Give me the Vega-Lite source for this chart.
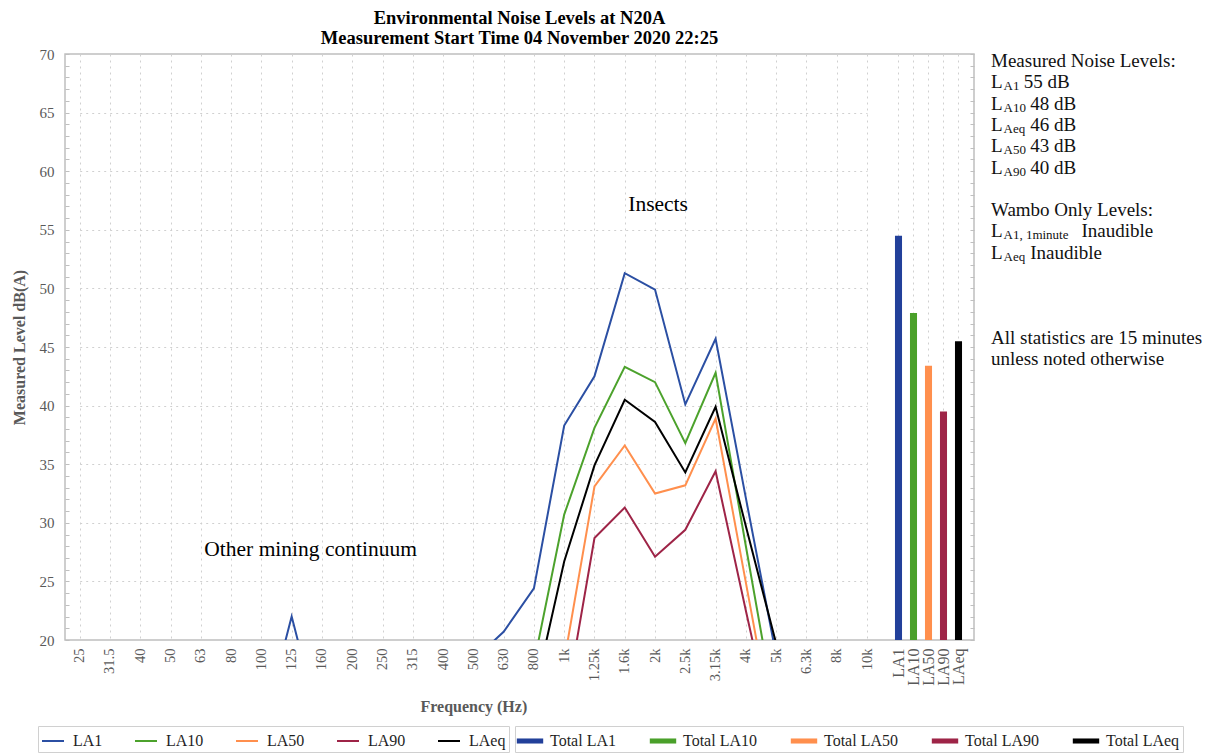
{
  "$schema": "https://vega.github.io/schema/vega-lite/v6.json",
  "padding": {"left": 11, "top": 8, "right": 0, "bottom": 0},
  "config": {
    "font": "Liberation Serif",
    "view": {"stroke": "#bfbfbf", "strokeWidth": 1.5},
    "legend": {"labelFontSize": 16, "labelColor": "#1f1f1f", "symbolSize": 484, "labelOffset": 8, "strokeColor": "#d0d0d0", "padding": 3, "fillColor": "#ffffff", "direction": "horizontal", "orient": "none", "title": null}
  },
  "title": {
    "text": ["Environmental Noise Levels at N20A", "Measurement Start Time 04 November 2020 22:25"],
    "fontSize": 18.5, "fontWeight": "bold", "color": "#000000", "lineHeight": 20, "offset": 0, "anchor": "middle", "frame": "group"
  },
  "width": 909,
  "height": 586,
  "data": {"values": [
    {"line": 1, "sub": "", "text": "Measured Noise Levels:"},
    {"line": 2, "sub": "A1", "text": "55 dB"},
    {"line": 3, "sub": "A10", "text": "48 dB"},
    {"line": 4, "sub": "Aeq", "text": "46 dB"},
    {"line": 5, "sub": "A50", "text": "43 dB"},
    {"line": 6, "sub": "A90", "text": "40 dB"},
    {"line": 8, "sub": "", "text": "Wambo Only Levels:"},
    {"line": 9, "sub": "A1, 1minute", "text": "Inaudible"},
    {"line": 10, "sub": "Aeq", "text": "Inaudible"},
    {"line": 14, "sub": "", "text": "All statistics are 15 minutes"},
    {"line": 15, "sub": "", "text": "unless noted otherwise"}
  ]},
  "layer": [
    {
      "data": {"values": [
        {"freq":"25","series":"LA1","value":16},{"freq":"31.5","series":"LA1","value":15},{"freq":"40","series":"LA1","value":14},{"freq":"50","series":"LA1","value":13},{"freq":"63","series":"LA1","value":13},{"freq":"80","series":"LA1","value":12.5},{"freq":"100","series":"LA1","value":12},{"freq":"125","series":"LA1","value":22.0},{"freq":"160","series":"LA1","value":12},{"freq":"200","series":"LA1","value":12.5},{"freq":"250","series":"LA1","value":13},{"freq":"315","series":"LA1","value":13.5},{"freq":"400","series":"LA1","value":14},{"freq":"500","series":"LA1","value":18.3},{"freq":"630","series":"LA1","value":20.7},{"freq":"800","series":"LA1","value":24.4},{"freq":"1k","series":"LA1","value":38.3},{"freq":"1.25k","series":"LA1","value":42.5},{"freq":"1.6k","series":"LA1","value":51.3},{"freq":"2k","series":"LA1","value":49.9},{"freq":"2.5k","series":"LA1","value":40.1},{"freq":"3.15k","series":"LA1","value":45.7},{"freq":"4k","series":"LA1","value":32.1},{"freq":"5k","series":"LA1","value":18.7},{"freq":"6.3k","series":"LA1","value":15},{"freq":"8k","series":"LA1","value":13},{"freq":"10k","series":"LA1","value":12},
        {"freq":"25","series":"LA10","value":12},{"freq":"31.5","series":"LA10","value":11},{"freq":"40","series":"LA10","value":11},{"freq":"50","series":"LA10","value":10},{"freq":"63","series":"LA10","value":10},{"freq":"80","series":"LA10","value":10},{"freq":"100","series":"LA10","value":10},{"freq":"125","series":"LA10","value":11},{"freq":"160","series":"LA10","value":10},{"freq":"200","series":"LA10","value":10},{"freq":"250","series":"LA10","value":11},{"freq":"315","series":"LA10","value":11},{"freq":"400","series":"LA10","value":12},{"freq":"500","series":"LA10","value":13},{"freq":"630","series":"LA10","value":15},{"freq":"800","series":"LA10","value":18.0},{"freq":"1k","series":"LA10","value":30.7},{"freq":"1.25k","series":"LA10","value":38.1},{"freq":"1.6k","series":"LA10","value":43.3},{"freq":"2k","series":"LA10","value":42.0},{"freq":"2.5k","series":"LA10","value":36.8},{"freq":"3.15k","series":"LA10","value":42.8},{"freq":"4k","series":"LA10","value":28.0},{"freq":"5k","series":"LA10","value":13.4},{"freq":"6.3k","series":"LA10","value":11},{"freq":"8k","series":"LA10","value":10},{"freq":"10k","series":"LA10","value":9},
        {"freq":"25","series":"LA50","value":8},{"freq":"31.5","series":"LA50","value":8},{"freq":"40","series":"LA50","value":8},{"freq":"50","series":"LA50","value":8},{"freq":"63","series":"LA50","value":8},{"freq":"80","series":"LA50","value":8},{"freq":"100","series":"LA50","value":8},{"freq":"125","series":"LA50","value":8},{"freq":"160","series":"LA50","value":8},{"freq":"200","series":"LA50","value":8},{"freq":"250","series":"LA50","value":8},{"freq":"315","series":"LA50","value":9},{"freq":"400","series":"LA50","value":9},{"freq":"500","series":"LA50","value":10},{"freq":"630","series":"LA50","value":11},{"freq":"800","series":"LA50","value":13},{"freq":"1k","series":"LA50","value":18.2},{"freq":"1.25k","series":"LA50","value":33.1},{"freq":"1.6k","series":"LA50","value":36.6},{"freq":"2k","series":"LA50","value":32.5},{"freq":"2.5k","series":"LA50","value":33.2},{"freq":"3.15k","series":"LA50","value":38.9},{"freq":"4k","series":"LA50","value":24.9},{"freq":"5k","series":"LA50","value":10.9},{"freq":"6.3k","series":"LA50","value":9},{"freq":"8k","series":"LA50","value":8},{"freq":"10k","series":"LA50","value":8},
        {"freq":"25","series":"LA90","value":6},{"freq":"31.5","series":"LA90","value":6},{"freq":"40","series":"LA90","value":6},{"freq":"50","series":"LA90","value":6},{"freq":"63","series":"LA90","value":6},{"freq":"80","series":"LA90","value":6},{"freq":"100","series":"LA90","value":6},{"freq":"125","series":"LA90","value":6},{"freq":"160","series":"LA90","value":6},{"freq":"200","series":"LA90","value":6},{"freq":"250","series":"LA90","value":6},{"freq":"315","series":"LA90","value":7},{"freq":"400","series":"LA90","value":7},{"freq":"500","series":"LA90","value":8},{"freq":"630","series":"LA90","value":8},{"freq":"800","series":"LA90","value":9},{"freq":"1k","series":"LA90","value":13.7},{"freq":"1.25k","series":"LA90","value":28.7},{"freq":"1.6k","series":"LA90","value":31.3},{"freq":"2k","series":"LA90","value":27.1},{"freq":"2.5k","series":"LA90","value":29.4},{"freq":"3.15k","series":"LA90","value":34.4},{"freq":"4k","series":"LA90","value":22.5},{"freq":"5k","series":"LA90","value":10.9},{"freq":"6.3k","series":"LA90","value":8},{"freq":"8k","series":"LA90","value":7},{"freq":"10k","series":"LA90","value":6},
        {"freq":"25","series":"LAeq","value":10},{"freq":"31.5","series":"LAeq","value":10},{"freq":"40","series":"LAeq","value":10},{"freq":"50","series":"LAeq","value":10},{"freq":"63","series":"LAeq","value":10},{"freq":"80","series":"LAeq","value":10},{"freq":"100","series":"LAeq","value":10},{"freq":"125","series":"LAeq","value":12},{"freq":"160","series":"LAeq","value":10},{"freq":"200","series":"LAeq","value":10},{"freq":"250","series":"LAeq","value":10},{"freq":"315","series":"LAeq","value":10},{"freq":"400","series":"LAeq","value":11},{"freq":"500","series":"LAeq","value":12},{"freq":"630","series":"LAeq","value":13},{"freq":"800","series":"LAeq","value":15.2},{"freq":"1k","series":"LAeq","value":26.7},{"freq":"1.25k","series":"LAeq","value":34.9},{"freq":"1.6k","series":"LAeq","value":40.5},{"freq":"2k","series":"LAeq","value":38.6},{"freq":"2.5k","series":"LAeq","value":34.3},{"freq":"3.15k","series":"LAeq","value":39.9},{"freq":"4k","series":"LAeq","value":29.7},{"freq":"5k","series":"LAeq","value":19.7},{"freq":"6.3k","series":"LAeq","value":15},{"freq":"8k","series":"LAeq","value":13},{"freq":"10k","series":"LAeq","value":11}
      ]},
      "mark": {"type": "line", "strokeWidth": 2, "clip": true},
      "encoding": {
        "x": {
          "field": "freq", "type": "ordinal",
          "sort": ["25","31.5","40","50","63","80","100","125","160","200","250","315","400","500","630","800","1k","1.25k","1.6k","2k","2.5k","3.15k","4k","5k","6.3k","8k","10k"],
          "scale": {"type": "point", "domain": ["25","31.5","40","50","63","80","100","125","160","200","250","315","400","500","630","800","1k","1.25k","1.6k","2k","2.5k","3.15k","4k","5k","6.3k","8k","10k"], "range": [14.7, 802], "padding": 0},
          "axis": {
            "title": "Frequency (Hz)", "orient": "bottom", "labelAngle": -90, "labelFontSize": 14.5, "labelColor": "#595959",
            "labelPadding": 8, "ticks": false, "domain": false, "grid": true, "gridDash": [2, 4], "gridColor": "#d0d0d0",
            "titleFontSize": 16, "titleFontWeight": "bold", "titleColor": "#595959", "titlePadding": 18, "labelOverlap": false
          }
        },
        "y": {
          "field": "value", "type": "quantitative",
          "scale": {"domain": [20, 70], "nice": false, "zero": false},
          "axis": {
            "title": "Measured Level dB(A)", "orient": "left",
            "values": [20,21,22,23,24,25,26,27,28,29,30,31,32,33,34,35,36,37,38,39,40,41,42,43,44,45,46,47,48,49,50,51,52,53,54,55,56,57,58,59,60,61,62,63,64,65,66,67,68,69,70],
            "labelExpr": "datum.value % 5 === 0 ? datum.label : ''",
            "labelFontSize": 15, "labelColor": "#595959", "labelPadding": 15, "labelOverlap": false, "labelFlush": false,
            "tickSize": -4, "tickColor": "#bfbfbf", "domain": false, "grid": true,
            "gridOpacity": {"condition": {"test": "datum.value % 5 === 0 && datum.value > 20 && datum.value < 70", "value": 1}, "value": 0},
            "gridDash": [2, 4], "gridColor": "#d0d0d0",
            "titleFontSize": 16, "titleFontWeight": "bold", "titleColor": "#595959", "titlePadding": 12
          }
        },
        "color": {
          "field": "series", "type": "nominal",
          "scale": {
            "domain": ["LA1","LA10","LA50","LA90","LAeq"],
            "range": ["#2B4FA3","#4CA22C","#FF8F4D","#9E2447","#000000"]
          },
          "legend": {"legendX": -27, "legendY": 672, "symbolType": "stroke", "symbolStrokeWidth": 2, "columnPadding": 28}
        }
      }
    },
    {
      "data": {"values": [
        {"freq": "1.6k", "value": 57.1, "note": "Insects"},
        {"freq": "63", "value": 27.7, "note": "Other mining continuum"}
      ]},
      "mark": {"type": "text", "fontSize": 21.5, "color": "#000000", "align": "left", "dx": 3.5},
      "encoding": {
        "x": {"field": "freq", "type": "ordinal",
              "scale": {"type": "point", "domain": ["25","31.5","40","50","63","80","100","125","160","200","250","315","400","500","630","800","1k","1.25k","1.6k","2k","2.5k","3.15k","4k","5k","6.3k","8k","10k"], "range": [14.7, 802], "padding": 0},
              "axis": null},
        "y": {"field": "value", "type": "quantitative", "scale": {"domain": [20, 70], "nice": false, "zero": false}, "axis": null},
        "text": {"field": "note"}
      }
    },
    {
      "data": {"values": [
        {"stat": "LA1", "series": "Total LA1", "value": 54.5},
        {"stat": "LA10", "series": "Total LA10", "value": 47.9},
        {"stat": "LA50", "series": "Total LA50", "value": 43.4},
        {"stat": "LA90", "series": "Total LA90", "value": 39.5},
        {"stat": "LAeq", "series": "Total LAeq", "value": 45.5}
      ]},
      "mark": {"type": "bar", "clip": true},
      "encoding": {
        "x": {
          "field": "stat", "type": "nominal",
          "scale": {"type": "band", "domain": ["LA1","LA10","LA50","LA90","LAeq"], "range": [826, 901], "paddingInner": 0.53, "paddingOuter": 0.265},
          "axis": {
            "title": null, "orient": "bottom", "labelAngle": -90, "labelFontSize": 16, "labelColor": "#595959",
            "labelPadding": 8, "ticks": false, "domain": false, "grid": true, "gridDash": [2, 4], "gridColor": "#d0d0d0",
            "labelOverlap": false, "labelBound": false
          }
        },
        "y": {
          "field": "value", "type": "quantitative",
          "scale": {"domain": [20, 70], "nice": false, "zero": false},
          "axis": {
            "orient": "right", "title": null, "labels": false,
            "values": [20,21,22,23,24,25,26,27,28,29,30,31,32,33,34,35,36,37,38,39,40,41,42,43,44,45,46,47,48,49,50,51,52,53,54,55,56,57,58,59,60,61,62,63,64,65,66,67,68,69,70],
            "tickSize": -4, "tickColor": "#bfbfbf", "domain": false, "grid": false
          }
        },
        "y2": {"datum": 20},
        "color": {
          "field": "series", "type": "nominal",
          "scale": {
            "domain": ["Total LA1","Total LA10","Total LA50","Total LA90","Total LAeq"],
            "range": ["#22409A","#4AA02A","#FF8F4D","#9E2447","#000000"]
          },
          "legend": {"legendX": 450, "legendY": 672, "symbolType": "M-1.2,-0.23H1.2V0.23H-1.2Z", "columnPadding": 33}
        }
      }
    },
    {
      "transform": [{"filter": "datum.sub !== ''"}],
      "mark": {"type": "text", "align": "left", "baseline": "middle", "fontSize": 19, "color": "#111111"},
      "encoding": {
        "x": {"datum": 0, "type": "quantitative", "scale": {"domain": [0, 200], "range": [926, 1126], "nice": false, "zero": false}, "axis": null},
        "y": {"field": "line", "type": "quantitative", "scale": {"domain": [1, 15], "range": [7, 305.2], "nice": false, "zero": false}, "axis": null},
        "text": {"value": "L"}
      }
    },
    {
      "transform": [{"filter": "datum.sub !== ''"}],
      "mark": {"type": "text", "align": "left", "baseline": "middle", "fontSize": 13, "dx": 12.5, "dy": 4, "color": "#111111"},
      "encoding": {
        "x": {"datum": 0, "type": "quantitative", "scale": {"domain": [0, 200], "range": [926, 1126], "nice": false, "zero": false}, "axis": null},
        "y": {"field": "line", "type": "quantitative", "scale": {"domain": [1, 15], "range": [7, 305.2], "nice": false, "zero": false}, "axis": null},
        "text": {"field": "sub"}
      }
    },
    {
      "transform": [{"calculate": "datum.sub === '' ? 0 : 20 + 6.4 * length(datum.sub)", "as": "indent"}],
      "mark": {"type": "text", "align": "left", "baseline": "middle", "fontSize": 19, "color": "#111111"},
      "encoding": {
        "x": {"field": "indent", "type": "quantitative", "scale": {"domain": [0, 200], "range": [926, 1126], "nice": false, "zero": false}, "axis": null},
        "y": {"field": "line", "type": "quantitative", "scale": {"domain": [1, 15], "range": [7, 305.2], "nice": false, "zero": false}, "axis": null},
        "text": {"field": "text"}
      }
    }
  ],
  "resolve": {"scale": {"x": "independent", "y": "independent", "color": "independent"}, "axis": {"x": "independent", "y": "independent"}}
}
